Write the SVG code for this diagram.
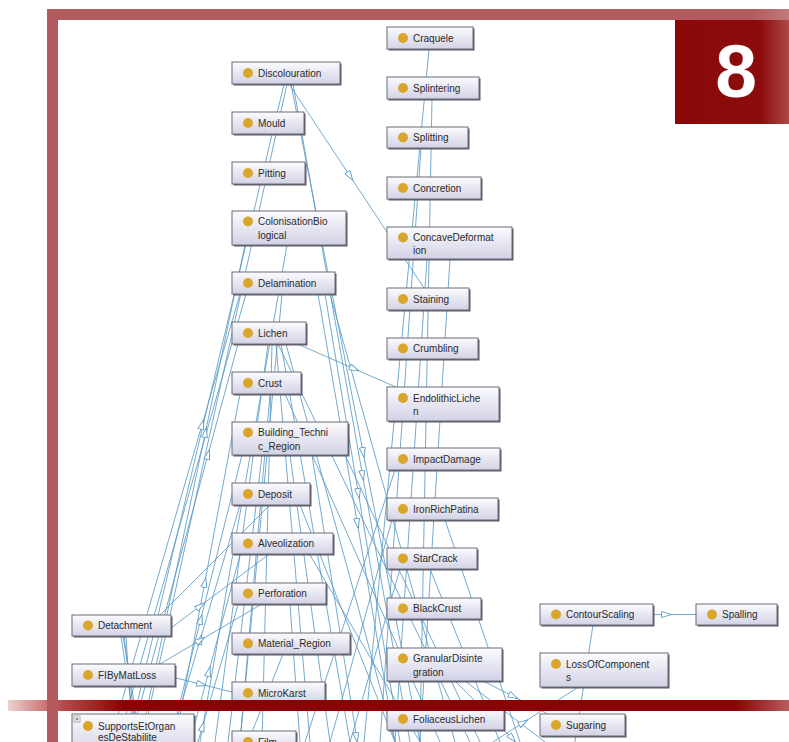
<svg xmlns="http://www.w3.org/2000/svg" width="789" height="742" viewBox="0 0 789 742">
<defs>
<linearGradient id="nodeFill" x1="0" y1="0" x2="0" y2="1">
<stop offset="0" stop-color="#fbfbfe"/>
<stop offset="1" stop-color="#d2d2e6"/>
</linearGradient>
<linearGradient id="topBar" x1="0" y1="0" x2="1" y2="0">
<stop offset="0" stop-color="#b35a5e"/>
<stop offset="0.95" stop-color="#b35a5e"/>
<stop offset="1" stop-color="#c27a7c"/>
</linearGradient>
<linearGradient id="boxGrad" x1="0" y1="0" x2="1" y2="0">
<stop offset="0" stop-color="#8a0808"/>
<stop offset="0.75" stop-color="#8c0c0c"/>
<stop offset="1" stop-color="#b04848"/>
</linearGradient>
<linearGradient id="botBar" x1="0" y1="0" x2="1" y2="0">
<stop offset="0" stop-color="#ecd2d2"/>
<stop offset="0.07" stop-color="#b84a4a"/>
<stop offset="0.15" stop-color="#8b0000"/>
<stop offset="0.93" stop-color="#8b0000"/>
<stop offset="1" stop-color="#b85c5c"/>
</linearGradient>
<marker id="tri" viewBox="0 0 11 7" markerWidth="11" markerHeight="7" refX="5" refY="3.5" orient="auto" markerUnits="userSpaceOnUse">
<path d="M0.5,0.5 L10.5,3.5 L0.5,6.5 Z" fill="#ffffff" stroke="#5b9bc5" stroke-width="0.9"/>
</marker>
</defs>
<style>
.e{fill:none;stroke:#5b9bc5;stroke-width:0.85}
.ea{fill:none;stroke:#5b9bc5;stroke-width:0.85;marker-mid:url(#tri)}
.sh{fill:#5a5a66}
.box{fill:url(#nodeFill);stroke:#6a6a78;stroke-width:1}
.dot{fill:#d9a52b}
.lbl{font-family:"Liberation Sans",Arial,sans-serif;font-size:10px;fill:#2a2a2a}
</style>
<rect x="0" y="0" width="789" height="742" fill="#ffffff"/>

<g id="connectors">
<line class="e" x1="284" y1="84" x2="128" y2="742"/>
<line class="e" x1="287" y1="84" x2="142" y2="742"/>
<line class="e" x1="287" y1="245" x2="200" y2="742"/>
<line class="e" x1="246" y1="294" x2="118" y2="742"/>
<line class="e" x1="282" y1="294" x2="240" y2="742"/>
<line class="e" x1="330" y1="294" x2="455" y2="742"/>
<line class="e" x1="268" y1="344" x2="215" y2="742"/>
<line class="e" x1="272" y1="344" x2="262" y2="742"/>
<line class="e" x1="276" y1="344" x2="310" y2="742"/>
<line class="e" x1="281" y1="344" x2="350" y2="742"/>
<line class="e" x1="286" y1="344" x2="395" y2="742"/>
<line class="e" x1="278" y1="344" x2="470" y2="742"/>
<line class="e" x1="270" y1="394" x2="240" y2="742"/>
<line class="e" x1="285" y1="394" x2="440" y2="742"/>
<line class="e" x1="262" y1="455" x2="228" y2="742"/>
<line class="e" x1="290" y1="455" x2="330" y2="742"/>
<line class="e" x1="345" y1="455" x2="480" y2="742"/>
<line class="e" x1="300" y1="505" x2="395" y2="742"/>
<line class="e" x1="270" y1="505" x2="160" y2="615"/>
<line class="e" x1="310" y1="555" x2="420" y2="742"/>
<line class="e" x1="290" y1="605" x2="300" y2="742"/>
<line class="e" x1="283" y1="654" x2="248" y2="742"/>
<line class="e" x1="429" y1="49" x2="364" y2="742"/>
<line class="e" x1="432" y1="99" x2="420" y2="742"/>
<line class="e" x1="421" y1="148" x2="380" y2="742"/>
<line class="e" x1="450" y1="259" x2="420" y2="742"/>
<line class="e" x1="427" y1="259" x2="395" y2="742"/>
<line class="e" x1="392" y1="520" x2="330" y2="742"/>
<line class="e" x1="400" y1="569" x2="350" y2="742"/>
<line class="e" x1="395" y1="470" x2="305" y2="742"/>
<line class="e" x1="445" y1="520" x2="520" y2="742"/>
<line class="e" x1="430" y1="569" x2="500" y2="742"/>
<line class="e" x1="465" y1="681" x2="545" y2="742"/>
<line class="e" x1="593" y1="625" x2="575" y2="742"/>
<line class="e" x1="121" y1="636" x2="133" y2="714"/>
<line class="e" x1="123" y1="636" x2="136" y2="714"/>
<line class="e" x1="126" y1="636" x2="131" y2="714"/>
<line class="e" x1="124" y1="636" x2="134" y2="714"/>
<path class="ea" d="M289,84 L349.8,175.8 L424,288"/>
<path class="ea" d="M291,84 L363.1,452 L420,742"/>
<path class="ea" d="M293,84 L362.5,475 L410,742"/>
<path class="ea" d="M325,294 L358.3,493 L400,742"/>
<path class="ea" d="M318,294 L357.3,523 L395,742"/>
<path class="ea" d="M300,345 L354,368.7 L398,388"/>
<path class="ea" d="M312,455 L356.5,737 L357.6,744"/>
<path class="ea" d="M110,742 L202,425 L240,294"/>
<path class="ea" d="M140,742 L205.3,433 L245,245"/>
<path class="ea" d="M130,742 L207.9,455 L238,344"/>
<path class="ea" d="M175,742 L204.7,583 L240,394"/>
<path class="ea" d="M170,742 L200.6,620 L242,455"/>
<path class="ea" d="M170,742 L200.1,640 L240,505"/>
<path class="ea" d="M190,742 L208.7,672 L240,555"/>
<path class="ea" d="M198,742 L202.4,727 L238,605"/>
<path class="ea" d="M171,628 L200,606.2 L268,555"/>
<path class="ea" d="M160,664 L200,640.4 L260,605"/>
<path class="ea" d="M176,678 L201,684.3 L232,692"/>
<path class="ea" d="M653,614.5 L666,614.5 L696,614.5"/>
<path class="ea" d="M483,681 L513,696.2 L548,714"/>
<path class="ea" d="M493,742 L523,722.7 L577,688"/>
<path class="ea" d="M455,681 L512,738 L515,742"/>
</g>

<g id="n-Discolouration" transform="translate(232,62)"><rect class="sh" x="1.5" y="1.5" width="108" height="22"/><rect class="box" width="108" height="22"/><circle class="dot" cx="16" cy="11" r="5"/><text class="lbl" x="26" y="14.5">Discolouration</text></g>
<g id="n-Mould" transform="translate(232,112)"><rect class="sh" x="1.5" y="1.5" width="72" height="22"/><rect class="box" width="72" height="22"/><circle class="dot" cx="16" cy="11" r="5"/><text class="lbl" x="26" y="14.5">Mould</text></g>
<g id="n-Pitting" transform="translate(232,162)"><rect class="sh" x="1.5" y="1.5" width="73" height="22"/><rect class="box" width="73" height="22"/><circle class="dot" cx="16" cy="11" r="5"/><text class="lbl" x="26" y="14.5">Pitting</text></g>
<g id="n-ColonisationBiological" transform="translate(232,211)"><rect class="sh" x="1.5" y="1.5" width="114" height="34"/><rect class="box" width="114" height="34"/><circle class="dot" cx="16" cy="10.5" r="5"/><text class="lbl" x="26" y="14">ColonisationBio</text><text class="lbl" x="26" y="27.5">logical</text></g>
<g id="n-Delamination" transform="translate(232,272)"><rect class="sh" x="1.5" y="1.5" width="103" height="22"/><rect class="box" width="103" height="22"/><circle class="dot" cx="16" cy="11" r="5"/><text class="lbl" x="26" y="14.5">Delamination</text></g>
<g id="n-Lichen" transform="translate(232,322)"><rect class="sh" x="1.5" y="1.5" width="74" height="22"/><rect class="box" width="74" height="22"/><circle class="dot" cx="16" cy="11" r="5"/><text class="lbl" x="26" y="14.5">Lichen</text></g>
<g id="n-Crust" transform="translate(232,372)"><rect class="sh" x="1.5" y="1.5" width="69" height="22"/><rect class="box" width="69" height="22"/><circle class="dot" cx="16" cy="11" r="5"/><text class="lbl" x="26" y="14.5">Crust</text></g>
<g id="n-Building_Technic_Region" transform="translate(232,422)"><rect class="sh" x="1.5" y="1.5" width="116" height="33"/><rect class="box" width="116" height="33"/><circle class="dot" cx="16" cy="10.5" r="5"/><text class="lbl" x="26" y="14">Building_Techni</text><text class="lbl" x="26" y="27.5">c_Region</text></g>
<g id="n-Deposit" transform="translate(232,483)"><rect class="sh" x="1.5" y="1.5" width="78" height="22"/><rect class="box" width="78" height="22"/><circle class="dot" cx="16" cy="11" r="5"/><text class="lbl" x="26" y="14.5">Deposit</text></g>
<g id="n-Alveolization" transform="translate(232,533)"><rect class="sh" x="1.5" y="1.5" width="101" height="21"/><rect class="box" width="101" height="21"/><circle class="dot" cx="16" cy="10.5" r="5"/><text class="lbl" x="26" y="14">Alveolization</text></g>
<g id="n-Perforation" transform="translate(232,583)"><rect class="sh" x="1.5" y="1.5" width="94" height="21"/><rect class="box" width="94" height="21"/><circle class="dot" cx="16" cy="10.5" r="5"/><text class="lbl" x="26" y="14">Perforation</text></g>
<g id="n-Material_Region" transform="translate(232,633)"><rect class="sh" x="1.5" y="1.5" width="118" height="21"/><rect class="box" width="118" height="21"/><circle class="dot" cx="16" cy="10.5" r="5"/><text class="lbl" x="26" y="14">Material_Region</text></g>
<g id="n-MicroKarst" transform="translate(232,682)"><rect class="sh" x="1.5" y="1.5" width="93" height="22"/><rect class="box" width="93" height="22"/><circle class="dot" cx="16" cy="11" r="5"/><text class="lbl" x="26" y="14.5">MicroKarst</text></g>
<g id="n-Film" transform="translate(232,731)"><rect class="sh" x="1.5" y="1.5" width="64" height="22"/><rect class="box" width="64" height="22"/><circle class="dot" cx="16" cy="11" r="5"/><text class="lbl" x="26" y="14.5">Film</text></g>
<g id="n-Detachment" transform="translate(72,615)"><rect class="sh" x="1.5" y="1.5" width="99" height="21"/><rect class="box" width="99" height="21"/><circle class="dot" cx="16" cy="10.5" r="5"/><text class="lbl" x="26" y="14">Detachment</text></g>
<g id="n-FIByMatLoss" transform="translate(72,664)"><rect class="sh" x="1.5" y="1.5" width="103" height="22"/><rect class="box" width="103" height="22"/><circle class="dot" cx="16" cy="11" r="5"/><text class="lbl" x="26" y="14.5">FIByMatLoss</text></g>
<g id="n-SupportsEtOrganesDeStabilite" transform="translate(72,714)"><rect class="sh" x="1.5" y="1.5" width="122" height="40"/><rect class="box" width="122" height="40"/><rect x="2" y="2" width="6" height="6" fill="#ffffff" stroke="#777" stroke-width="0.6"/><path d="M3.3,5 H6.7 M5,3.3 V6.7" stroke="#444" stroke-width="0.7"/><circle class="dot" cx="16" cy="12" r="5"/><text class="lbl" x="26" y="15.5">SupportsEtOrgan</text><text class="lbl" x="26" y="27">esDeStabilite</text></g>
<g id="n-Craquele" transform="translate(387,27)"><rect class="sh" x="1.5" y="1.5" width="86" height="22"/><rect class="box" width="86" height="22"/><circle class="dot" cx="16" cy="11" r="5"/><text class="lbl" x="26" y="14.5">Craquele</text></g>
<g id="n-Splintering" transform="translate(387,77)"><rect class="sh" x="1.5" y="1.5" width="92" height="22"/><rect class="box" width="92" height="22"/><circle class="dot" cx="16" cy="11" r="5"/><text class="lbl" x="26" y="14.5">Splintering</text></g>
<g id="n-Splitting" transform="translate(387,127)"><rect class="sh" x="1.5" y="1.5" width="81" height="21"/><rect class="box" width="81" height="21"/><circle class="dot" cx="16" cy="10.5" r="5"/><text class="lbl" x="26" y="14">Splitting</text></g>
<g id="n-Concretion" transform="translate(387,177)"><rect class="sh" x="1.5" y="1.5" width="94" height="22"/><rect class="box" width="94" height="22"/><circle class="dot" cx="16" cy="11" r="5"/><text class="lbl" x="26" y="14.5">Concretion</text></g>
<g id="n-ConcaveDeformation" transform="translate(387,227)"><rect class="sh" x="1.5" y="1.5" width="125" height="32"/><rect class="box" width="125" height="32"/><circle class="dot" cx="16" cy="10.5" r="5"/><text class="lbl" x="26" y="14">ConcaveDeformat</text><text class="lbl" x="26" y="27">ion</text></g>
<g id="n-Staining" transform="translate(387,288)"><rect class="sh" x="1.5" y="1.5" width="82" height="22"/><rect class="box" width="82" height="22"/><circle class="dot" cx="16" cy="11" r="5"/><text class="lbl" x="26" y="14.5">Staining</text></g>
<g id="n-Crumbling" transform="translate(387,338)"><rect class="sh" x="1.5" y="1.5" width="91" height="21"/><rect class="box" width="91" height="21"/><circle class="dot" cx="16" cy="10.5" r="5"/><text class="lbl" x="26" y="14">Crumbling</text></g>
<g id="n-EndolithicLichen" transform="translate(387,387)"><rect class="sh" x="1.5" y="1.5" width="112" height="34"/><rect class="box" width="112" height="34"/><circle class="dot" cx="16" cy="11" r="5"/><text class="lbl" x="26" y="14.5">EndolithicLiche</text><text class="lbl" x="26" y="28">n</text></g>
<g id="n-ImpactDamage" transform="translate(387,448)"><rect class="sh" x="1.5" y="1.5" width="113" height="22"/><rect class="box" width="113" height="22"/><circle class="dot" cx="16" cy="11" r="5"/><text class="lbl" x="26" y="14.5">ImpactDamage</text></g>
<g id="n-IronRichPatina" transform="translate(387,498)"><rect class="sh" x="1.5" y="1.5" width="111" height="22"/><rect class="box" width="111" height="22"/><circle class="dot" cx="16" cy="11" r="5"/><text class="lbl" x="26" y="14.5">IronRichPatina</text></g>
<g id="n-StarCrack" transform="translate(387,548)"><rect class="sh" x="1.5" y="1.5" width="90" height="21"/><rect class="box" width="90" height="21"/><circle class="dot" cx="16" cy="10.5" r="5"/><text class="lbl" x="26" y="14">StarCrack</text></g>
<g id="n-BlackCrust" transform="translate(387,598)"><rect class="sh" x="1.5" y="1.5" width="94" height="21"/><rect class="box" width="94" height="21"/><circle class="dot" cx="16" cy="10.5" r="5"/><text class="lbl" x="26" y="14">BlackCrust</text></g>
<g id="n-GranularDisintegration" transform="translate(387,648)"><rect class="sh" x="1.5" y="1.5" width="115" height="33"/><rect class="box" width="115" height="33"/><circle class="dot" cx="16" cy="10.5" r="5"/><text class="lbl" x="26" y="14">GranularDisinte</text><text class="lbl" x="26" y="27.5">gration</text></g>
<g id="n-FoliaceusLichen" transform="translate(387,708)"><rect class="sh" x="1.5" y="1.5" width="117" height="22"/><rect class="box" width="117" height="22"/><circle class="dot" cx="16" cy="11" r="5"/><text class="lbl" x="26" y="14.5">FoliaceusLichen</text></g>
<g id="n-ContourScaling" transform="translate(540,604)"><rect class="sh" x="1.5" y="1.5" width="113" height="21"/><rect class="box" width="113" height="21"/><circle class="dot" cx="16" cy="10.5" r="5"/><text class="lbl" x="26" y="14">ContourScaling</text></g>
<g id="n-Spalling" transform="translate(696,604)"><rect class="sh" x="1.5" y="1.5" width="81" height="21"/><rect class="box" width="81" height="21"/><circle class="dot" cx="16" cy="10.5" r="5"/><text class="lbl" x="26" y="14">Spalling</text></g>
<g id="n-LossOfComponents" transform="translate(540,653)"><rect class="sh" x="1.5" y="1.5" width="128" height="34"/><rect class="box" width="128" height="34"/><circle class="dot" cx="16" cy="11" r="5"/><text class="lbl" x="26" y="14.5">LossOfComponent</text><text class="lbl" x="26" y="28">s</text></g>
<g id="n-Sugaring" transform="translate(540,714)"><rect class="sh" x="1.5" y="1.5" width="85" height="22"/><rect class="box" width="85" height="22"/><circle class="dot" cx="16" cy="11" r="5"/><text class="lbl" x="26" y="14.5">Sugaring</text></g>

<g id="frame">
<rect x="47" y="9" width="742" height="11" fill="url(#topBar)"/>
<rect x="675" y="20" width="114" height="104" fill="url(#boxGrad)"/>
<text x="736" y="97" text-anchor="middle" font-family="Liberation Sans, Arial, sans-serif" font-weight="bold" font-size="75" fill="#ffffff">8</text>
<rect x="8" y="700" width="781" height="11" fill="url(#botBar)"/>
<rect x="47" y="9" width="11" height="733" fill="#b35a5e"/>
</g>
</svg>
